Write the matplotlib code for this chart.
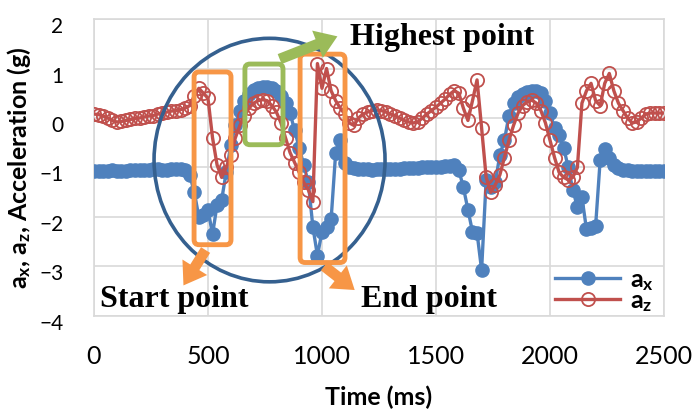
import matplotlib
matplotlib.use('Agg')
import matplotlib.pyplot as plt
import numpy as np
from matplotlib.patches import Ellipse, FancyBboxPatch, FancyArrowPatch
from matplotlib.transforms import ScaledTranslation

plt.rcParams['font.family'] = ['Lato', 'DejaVu Sans']
plt.rcParams['mathtext.fontset'] = 'custom'
plt.rcParams['mathtext.rm'] = 'Lato'
plt.rcParams['mathtext.bf'] = 'Lato:bold'
plt.rcParams['mathtext.it'] = 'Lato:italic'

# samples every 20 ms, 0..2500
time_ms = np.arange(0, 2501, 20)

# a_x (g)
ax_vals = [
    -1.07, -1.07, -1.08, -1.07, -1.06, -1.07, -1.08, -1.07, -1.06, -1.05,   # 0
    -1.05, -1.06, -1.05, -1.04, -1.04, -1.05, -1.05, -1.04, -1.03, -1.04,   # 200
    -1.05, -1.15, -1.50, -2.00, -1.95, -1.85, -2.35, -1.75, -1.65, -1.10,   # 400
    -0.55, -0.15, 0.15, 0.35, 0.48, 0.56, 0.60, 0.62, 0.62, 0.60,           # 600
    0.55, 0.45, 0.30, 0.10, -0.25, -0.60, -0.95, -1.30, -2.20, -2.78,       # 800
    -2.30, -2.20, -2.05, -0.70, -0.45, -0.90, -1.00, -1.02, -1.03, -1.04,   # 1000
    -1.04, -1.05, -1.04, -1.04, -1.03, -1.03, -1.04, -1.03, -1.02, -1.02,   # 1200
    -1.02, -1.01, -1.00, -1.00, -0.99, -0.98, -0.98, -0.97, -0.97, -0.95,   # 1400
    -1.05, -1.40, -1.85, -2.30, -2.32, -3.07, -1.25, -1.40, -1.30, -0.75,   # 1600
    -0.45, 0.05, 0.30, 0.42, 0.48, 0.52, 0.55, 0.55, 0.50, 0.35,            # 1800
    0.10, -0.20, -0.35, -0.60, -1.00, -1.45, -1.80, -1.60, -2.25, -2.22,    # 2000
    -2.18, -0.85, -0.62, -0.80, -0.95, -1.02, -1.05, -1.06, -1.07, -1.07,   # 2200
    -1.07, -1.08, -1.07, -1.07, -1.08, -1.08,                               # 2400
]

# a_z (g)
az_vals = [
    0.08, 0.07, 0.04, 0.00, -0.05, -0.08, -0.07, -0.05, -0.03, -0.01,       # 0
    0.00, 0.02, 0.04, 0.05, 0.08, 0.10, 0.12, 0.14, 0.15, 0.17,             # 200
    0.20, 0.25, 0.45, 0.60, 0.50, 0.40, -0.40, -0.95, -1.20, -1.00,         # 400
    -0.75, -0.40, -0.15, 0.05, 0.20, 0.30, 0.35, 0.37, 0.35, 0.25,          # 600
    0.12, -0.10, -0.40, -0.70, -0.90, -1.10, -1.30, -1.45, -1.69, 1.10,     # 800
    0.60, 1.00, 0.55, 0.35, 0.20, 0.08, -0.10, -0.15, 0.00, 0.08,           # 1000
    0.12, 0.15, 0.16, 0.15, 0.12, 0.08, 0.05, 0.00, -0.05, -0.08,           # 1200
    -0.10, -0.08, 0.00, 0.08, 0.15, 0.22, 0.30, 0.38, 0.48, 0.55,           # 1400
    0.50, 0.20, -0.05, 0.35, 0.77, -0.20, -1.20, -1.50, -1.35, -1.15,       # 1600
    -0.80, -0.45, -0.15, 0.10, 0.25, 0.33, 0.36, 0.30, 0.15, -0.10,         # 1800
    -0.45, -0.80, -1.10, -1.20, -1.25, -1.20, -1.00, 0.30, 0.55, 0.70,      # 2000
    0.35, 0.25, 0.70, 0.90, 0.55, 0.30, 0.15, 0.00, -0.10, -0.08,           # 2200
    0.00, 0.08, 0.10, 0.10, 0.10, 0.10,                                     # 2400
]

x_ticks = [0, 500, 1000, 1500, 2000, 2500]
y_ticks = [-4, -3, -2, -1, 0, 1, 2]

blue = '#4F81BD'
red = '#C0504D'
orange = '#F79646'
green = '#9BBB59'
navy = '#35608F'
grid_c = '#D9D9D9'

fig = plt.figure(figsize=(6.94, 4.15), dpi=100)
ax = fig.add_axes([0.1354, 0.2386, 0.8214, 0.7156])

ax.plot(time_ms, ax_vals, color=blue, lw=2.4, marker='o', ms=9.5,
        mfc=blue, mec=blue, label=r'$\mathbf{a_x}$', zorder=3)
ax.plot(time_ms, az_vals, color=red, lw=2.4, marker='o', ms=9.5,
        mfc='none', mec=red, mew=1.3, label=r'$\mathbf{a_z}$', zorder=4)

ax.set_xlim(0, 2500)
ax.set_ylim(-4, 2)
ax.set_xticks(x_ticks)
ax.set_yticks(y_ticks)
ax.grid(True, color=grid_c, lw=1.2)
ax.set_axisbelow(True)
for s in ax.spines.values():
    s.set_color(grid_c)
    s.set_linewidth(1.2)
ax.tick_params(length=0)
ax.tick_params(axis='y', labelsize=15, pad=22)
ax.tick_params(axis='x', labelsize=18, pad=21)
for lab in ax.get_yticklabels():
    lab.set_transform(lab.get_transform() + ScaledTranslation(0, -0.06, fig.dpi_scale_trans))

ax.set_xlabel('Time (ms)', fontsize=18, fontweight='bold', va='top')
ax.xaxis.set_label_coords(0.5, -0.235)
ax.set_ylabel(r'$\mathbf{a_x}$, $\mathbf{a_z}$, Acceleration (g)', fontsize=18, fontweight='bold')
ax.yaxis.set_label_coords(-0.107, 0.5)

leg = ax.legend(loc='lower right', bbox_to_anchor=(1.005, -0.035), frameon=False,
                prop={'family': 'Lato', 'weight': 'bold', 'size': 18},
                handlelength=2.6, handletextpad=0.4, labelspacing=-0.15,
                borderaxespad=0.1)

# annotations
asp = (6.0 / 297) / (2500 / 570)   # data-y per data-x for equal pixels
ax.add_patch(Ellipse((770, -0.85), 1013, 4.92, fill=False, ec=navy, lw=2.6, zorder=5))

boxes = [((439, -2.56), 162, 3.49, orange),
         ((904, -2.92), 197, 4.21, orange),
         ((662, -0.54), 167, 1.63, green)]
for (x0, y0), w, h, c in boxes:
    ax.add_patch(FancyBboxPatch((x0, y0), w, h, boxstyle='round,pad=0,rounding_size=22',
                                mutation_aspect=asp, fill=False, ec=c, lw=3.5, zorder=6))

arrows = [((803, 1.17), (1079, 1.67), green),
          ((496, -2.62), (386, -3.43), orange),
          ((1000, -2.96), (1153, -3.51), orange)]
for p0, p1, c in arrows:
    ax.add_patch(FancyArrowPatch(p0, p1, arrowstyle='simple,head_length=1.1,head_width=1.5,tail_width=0.55',
                                 mutation_scale=14, color=c, lw=0, zorder=7, clip_on=False))

ann_font = dict(family='Liberation Serif', fontweight='bold', fontsize=23, zorder=8)
ax.text(1125, 1.47, 'Highest point', va='baseline', ha='left', **ann_font)
ax.text(25, -3.81, 'Start point', va='baseline', ha='left', **ann_font)
ax.text(1171, -3.81, 'End point', va='baseline', ha='left', **ann_font)

fig.savefig('out.png', dpi=100)
